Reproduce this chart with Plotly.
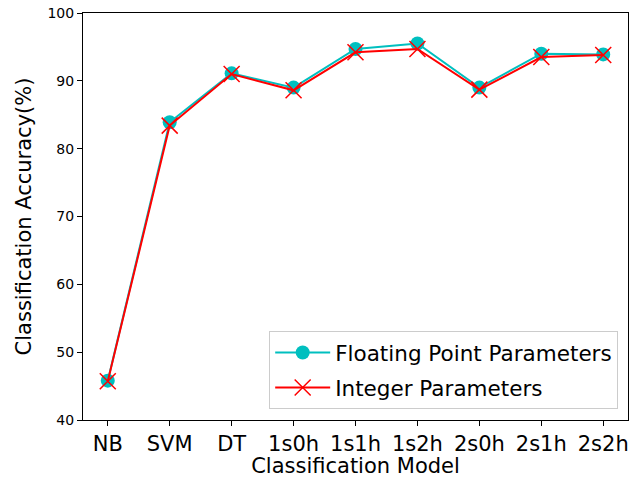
import plotly.graph_objects as go

models = ["NB", "SVM", "DT", "1s0h", "1s1h", "1s2h", "2s0h", "2s1h", "2s2h"]
float_acc = [45.8, 83.9, 91.1, 89.0, 94.7, 95.5, 89.0, 94.0, 93.9]
int_acc = [45.7, 83.4, 91.0, 88.6, 94.2, 94.7, 88.7, 93.5, 93.8]
y_ticks = [40, 50, 60, 70, 80, 90, 100]

FONT = "DejaVu Sans"
CYAN = "#00BFBF"
RED = "#FF0000"

fig = go.Figure()
fig.add_trace(go.Scatter(
    x=models, y=float_acc, mode="lines+markers",
    name="Floating Point Parameters", legendgroup="float",
    line=dict(color=CYAN, width=2),
    marker=dict(symbol="circle", size=14, color=CYAN),
))
fig.add_trace(go.Scatter(
    x=models, y=int_acc, mode="lines+markers",
    name="Integer Parameters", legendgroup="int",
    line=dict(color=RED, width=2),
    marker=dict(symbol="x-thin", size=16, color=RED,
                line=dict(color=RED, width=1.5)),
))

fig.update_layout(
    width=644, height=478,
    margin=dict(l=83, r=16, t=13, b=58),
    paper_bgcolor="white", plot_bgcolor="white",
    font=dict(family=FONT, color="black"),
    showlegend=True,
    legend=dict(
        x=0.982, y=0.027, xanchor="right", yanchor="bottom",
        font=dict(family=FONT, size=21.5, color="black"),
        bgcolor="rgba(255,255,255,0.8)",
        bordercolor="#cccccc", borderwidth=1,
        itemwidth=55, tracegroupgap=4,
    ),
    xaxis=dict(
        title=dict(text="Classification Model", font=dict(size=21), standoff=2),
        type="category",
        range=[-0.4, 8.4],
        automargin=False,
        showgrid=False, zeroline=False,
        showline=True, mirror=True, linecolor="black", linewidth=1.1,
        ticks="outside", ticklen=5, tickwidth=1.1, tickcolor="black",
        tickfont=dict(size=21),
    ),
    yaxis=dict(
        title=dict(text="Classification Accuracy(%)", font=dict(size=21), standoff=10),
        range=[40, 100],
        tickvals=y_ticks,
        automargin=False,
        showgrid=False, zeroline=False,
        showline=True, mirror=True, linecolor="black", linewidth=1.1,
        ticks="outside", ticklen=5, tickwidth=1.1, tickcolor="black",
        tickfont=dict(size=14),
    ),
)

fig.write_html("out.html")
